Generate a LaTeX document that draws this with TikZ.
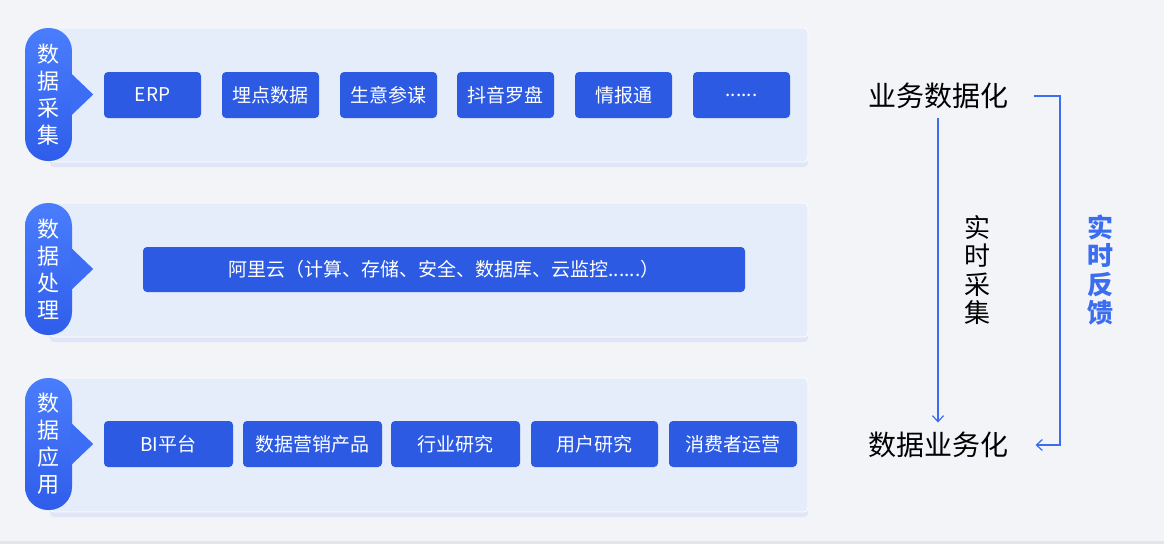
\documentclass[tikz,border=0pt]{standalone}
\usepackage{fontspec}
\setmainfont{Noto Sans CJK SC}
\usetikzlibrary{arrows.meta,shadows}
\definecolor{bg}{HTML}{F3F4F8}
\definecolor{panelbg}{HTML}{E5EDFB}
\definecolor{boxblue}{HTML}{2C5AE2}
\definecolor{pilltop}{HTML}{4A7DFC}
\definecolor{pillbot}{HTML}{2F5DEB}
\definecolor{pillmid}{HTML}{3C6DF5}
\definecolor{linkblue}{HTML}{3A6DF0}
\tikzset{
  panel/.style={fill=panelbg, draw=white, line width=0.8pt, rounded corners=4pt,
    drop shadow={shadow xshift=0pt, shadow yshift=-5pt, fill=linkblue, opacity=0.10}},
  pill/.style={minimum width=47pt, rounded corners=23pt, text=white,
    top color=pilltop, bottom color=pillbot, align=center, inner sep=0pt,
    font=\fontsize{22}{27}\selectfont},
  item/.style={fill=boxblue, rounded corners=4pt, text=white, inner sep=0pt,
    minimum height=46pt, font=\fontsize{19}{22}\selectfont},
  phase/.style={font=\fontsize{28}{32}\selectfont, text=black},
  vlabel/.style={align=center, inner sep=0pt, font=\fontsize{26}{28.5}\selectfont},
  flow/.style={linkblue, line width=1.2pt, -{Straight Barb[length=6pt,width=11pt]}}
}
\begin{document}
\begin{tikzpicture}[x=1pt,y=-1pt]
  \fill[bg] (0,0) rectangle (1164,544);
  \fill[black!10] (0,541) rectangle (1164,544);
  \useasboundingbox (0,0) rectangle (1164,544);

  % three layers
  \path[panel] (50,28) rectangle (808,162);
  \path[panel] (50,203) rectangle (808,337);
  \path[panel] (50,378) rectangle (808,512);

  \node[pill, minimum height=133pt] (caiji) at (48.5,94.5) {数\\据\\采\\集};
  \node[pill, minimum height=132pt] (chuli) at (48.5,269) {数\\据\\处\\理};
  \node[pill, minimum height=132pt] (yingyong) at (48.5,444) {数\\据\\应\\用};
  \fill[pillmid] ([xshift=-1pt,yshift=21pt]caiji.east) -- ++(22,21) -- ++(-22,21) -- cycle;
  \fill[pillmid] ([xshift=-1pt,yshift=21pt]chuli.east) -- ++(22,21) -- ++(-22,21) -- cycle;
  \fill[pillmid] ([xshift=-1pt,yshift=21pt]yingyong.east) -- ++(22,21) -- ++(-22,21) -- cycle;

  % collection
  \node[item, minimum width=97pt] (erp) at (152.5,95) {ERP};
  \node[item, minimum width=97pt] (maidian) at (270.5,95) {埋点数据};
  \node[item, minimum width=97pt] (shengyi) at (388.5,95) {生意参谋};
  \node[item, minimum width=97pt] (douyin) at (505.5,95) {抖音罗盘};
  \node[item, minimum width=97pt] (qingbao) at (623.5,95) {情报通};
  \node[item, minimum width=97pt] (more) at (741.5,95) {......};

  % processing
  \node[item, minimum width=602pt, minimum height=45pt] (aliyun) at (444,269.5)
    {阿里云（计算、存储、安全、数据库、云监控......）};

  % application
  \node[item, minimum width=129pt] (bi) at (168.5,444) {BI平台};
  \node[item, minimum width=139pt] (yingxiao) at (312.5,444) {数据营销产品};
  \node[item, minimum width=129pt] (hangye) at (455.5,444) {行业研究};
  \node[item, minimum width=127pt] (yonghu) at (594.5,444) {用户研究};
  \node[item, minimum width=128pt] (yunying) at (733,444) {消费者运营};

  % right side loop
  \node[phase] (ywsj) at (938,96) {业务数据化};
  \node[phase] (sjyw) at (938,445) {数据业务化};
  \node[vlabel, text=black] (caijilbl) at (977,270) {实\\时\\采\\集};
  \node[vlabel, text=linkblue, font=\bfseries\fontsize{26}{28.5}\selectfont] (fankui) at (1100,270) {实\\时\\反\\馈};
  \coordinate (turn) at (1060,96);

  \draw[flow] ([yshift=-6pt]ywsj.south) -- ([yshift=6pt]sjyw.north);
  \draw[flow] ([xshift=22pt]ywsj.east) -- (turn) |- ([xshift=24pt]sjyw.east);
\end{tikzpicture}
\end{document}
